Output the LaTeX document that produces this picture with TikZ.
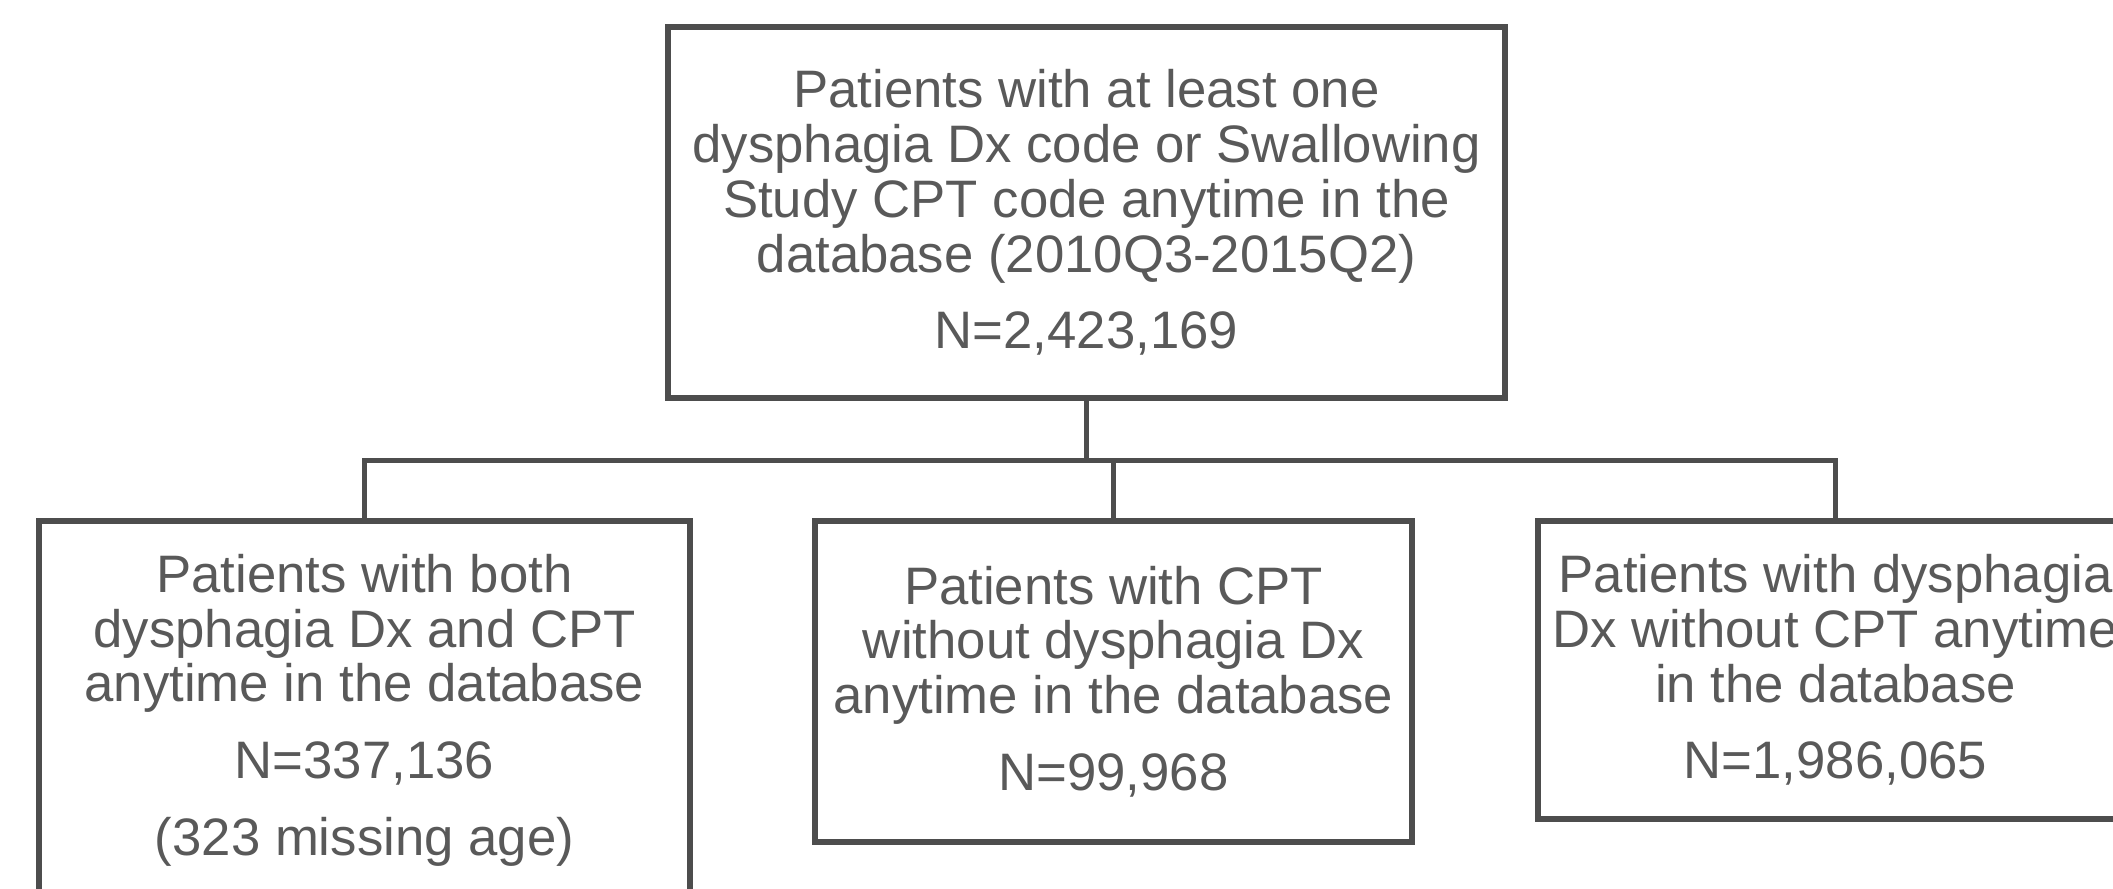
\documentclass[tikz,border=0pt]{standalone}
\usepackage{fontspec}
\setmainfont{Liberation Sans}
\definecolor{flowline}{RGB}{77, 77, 77}
\definecolor{flowtext}{RGB}{89, 89, 89}
\usetikzlibrary{positioning, calc}

\begin{document}
\begin{tikzpicture}[
  fbox/.style={draw=flowline, line width=1.5pt, align=center, inner sep=0pt, text=flowtext, font=\fontsize{15}{15.6}\selectfont},
  link/.style={draw=flowline, line width=1.5pt}
]
  \useasboundingbox (0,0) rectangle (21.13,8.88);
  \clip (0,0) rectangle (21.13,8.88);
  \node[fbox, minimum width=8.37cm, minimum height=3.71cm] (all) at (10.865, 6.755) {Patients with at least one\\dysphagia Dx code or Swallowing\\Study CPT code anytime in the\\database (2010Q3-2015Q2)\\[6.2pt]N=2,423,169};
  \node[fbox, minimum width=6.51cm, minimum height=3.78cm] (both) at (3.645, 1.78) {Patients with both\\dysphagia Dx and CPT\\anytime in the database\\[6.2pt]N=337,136\\[6.2pt](323 missing age)};
  \node[fbox, minimum width=5.97cm, minimum height=3.21cm] (cptonly) at (11.135, 2.065) {Patients with CPT\\without dysphagia Dx\\anytime in the database\\[6.2pt]N=99,968};
  \node[fbox, minimum width=5.95cm, minimum height=2.98cm] (dxonly) at (18.355, 2.18) {Patients with dysphagia\\Dx without CPT anytime\\in the database\\[6.2pt]N=1,986,065};
  \draw[link] (all.south) -- ++(0,-0.6) coordinate (hub);
  \draw[link] (hub) -| (both.north);
  \draw[link] (hub) -| (cptonly.north);
  \draw[link] (hub) -| (dxonly.north);
\end{tikzpicture}
\end{document}
